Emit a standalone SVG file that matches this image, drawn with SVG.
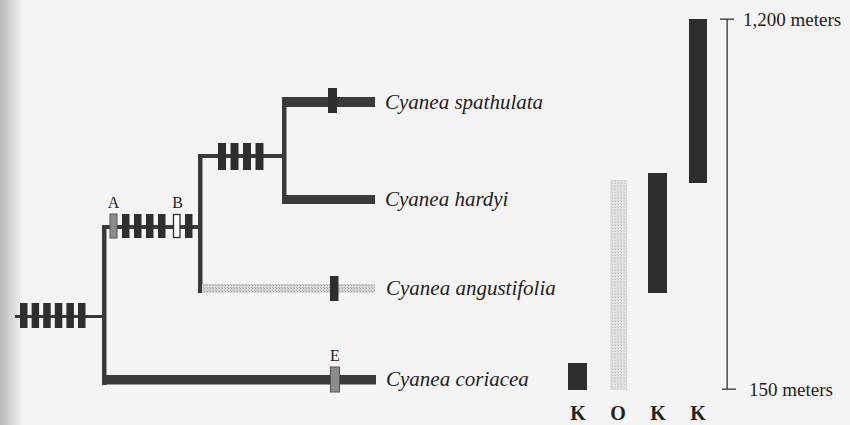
<svg xmlns="http://www.w3.org/2000/svg" width="850" height="425" viewBox="0 0 850 425">
  <defs>
    <linearGradient id="edge" x1="0" y1="0" x2="1" y2="0">
      <stop offset="0" stop-color="#b8b8b8"/>
      <stop offset="1" stop-color="#f2f2f2"/>
    </linearGradient>
    <pattern id="stip" width="3" height="3" patternUnits="userSpaceOnUse">
      <rect width="3" height="3" fill="#d6d6d6"/>
      <rect width="1" height="1" fill="#a8a8a8"/>
      <rect x="2" y="2" width="1" height="1" fill="#b4b4b4"/>
    </pattern>
    <pattern id="stipL" width="3" height="3" patternUnits="userSpaceOnUse">
      <rect width="3" height="3" fill="#e0e0e0"/>
      <rect width="1" height="1" fill="#c4c4c4"/>
      <rect x="2" y="2" width="1" height="1" fill="#cecece"/>
    </pattern>
  </defs>
  <style>
    .ln { fill: #3a3a3a; }
    .bar { fill: #2e2e2e; }
    .gbar { fill: #8c8c8c; stroke: #555; stroke-width: 1; }
    .wbar { fill: #ffffff; stroke: #2e2e2e; stroke-width: 1.3; }
    .taxon { font-family: "Liberation Serif", "Times New Roman", serif; font-style: italic; font-size: 21px; fill: #1e1e1e; }
    .lbl { font-family: "Liberation Serif", "Times New Roman", serif; font-size: 16px; fill: #222; text-anchor: middle; }
    .scale { font-family: "Liberation Serif", "Times New Roman", serif; font-size: 19px; fill: #222; }
    .isl { font-family: "Liberation Serif", "Times New Roman", serif; font-size: 20px; font-weight: bold; fill: #222; text-anchor: middle; }
  </style>

  <rect width="850" height="425" fill="#f4f4f4"/>
  <rect width="22" height="425" fill="url(#edge)"/>

  <g id="connectors">
    <rect class="ln" x="15" y="315" width="90" height="3"/>
    <rect class="ln" x="102" y="225" width="4.5" height="160"/>
    <rect class="ln" x="102" y="225" width="100" height="4"/>
    <rect class="ln" x="198" y="154" width="4.5" height="139"/>
    <rect class="ln" x="198" y="154" width="88" height="4"/>
    <rect class="ln" x="282" y="97" width="4.5" height="107"/>
    <rect class="ln" x="282" y="97" width="93" height="10"/>
    <rect class="ln" x="282" y="195" width="93" height="9"/>
    <rect x="202" y="284" width="173" height="9" fill="url(#stip)"/>
    <rect class="ln" x="102" y="375" width="274" height="9.5"/>
  </g>

  <g id="root-characters">
    <rect class="bar" x="20" y="303" width="7.5" height="25"/>
    <rect class="bar" x="31.6" y="303" width="7.5" height="25"/>
    <rect class="bar" x="43.2" y="303" width="7.5" height="25"/>
    <rect class="bar" x="54.8" y="303" width="7.5" height="25"/>
    <rect class="bar" x="66.4" y="303" width="7.5" height="25"/>
    <rect class="bar" x="78" y="303" width="7.5" height="25"/>
  </g>

  <g id="node-AB">
    <rect class="gbar" x="110" y="214" width="7" height="24"/>
    <rect class="bar" x="122" y="214" width="7.5" height="24"/>
    <rect class="bar" x="134" y="214" width="7.5" height="24"/>
    <rect class="bar" x="146" y="214" width="7.5" height="24"/>
    <rect class="bar" x="158" y="214" width="7.5" height="24"/>
    <rect class="wbar" x="173.5" y="214.5" width="6.5" height="23"/>
    <rect class="bar" x="185" y="214" width="7.5" height="24"/>
    <text class="lbl" x="113.5" y="208">A</text>
    <text class="lbl" x="177.5" y="208">B</text>
  </g>

  <g id="node-upper">
    <rect class="bar" x="218" y="143" width="8" height="27"/>
    <rect class="bar" x="230.5" y="143" width="8" height="27"/>
    <rect class="bar" x="243" y="143" width="8" height="27"/>
    <rect class="bar" x="255.5" y="143" width="8" height="27"/>
  </g>

  <g id="taxon-spathulata">
    <rect class="bar" x="328" y="88" width="9" height="25"/>
    <text class="taxon" x="385" y="109">Cyanea spathulata</text>
  </g>

  <g id="taxon-hardyi">
    <text class="taxon" x="385" y="206">Cyanea hardyi</text>
  </g>

  <g id="taxon-angustifolia">
    <rect class="bar" x="330" y="276" width="8.5" height="25"/>
    <text class="taxon" x="386" y="295">Cyanea angustifolia</text>
  </g>

  <g id="taxon-coriacea">
    <rect class="gbar" x="330.5" y="367" width="9" height="25"/>
    <text class="lbl" x="335" y="361">E</text>
    <text class="taxon" x="386" y="386">Cyanea coriacea</text>
  </g>

  <g id="altitude-bars">
    <rect class="bar" x="568" y="363" width="19" height="27"/>
    <rect x="610" y="180" width="17" height="210" fill="url(#stipL)"/>
    <rect class="bar" x="648" y="173" width="19" height="120"/>
    <rect class="bar" x="689" y="19" width="18" height="164"/>
  </g>

  <g id="island-labels">
    <text class="isl" x="578" y="420">K</text>
    <text class="isl" x="618" y="420">O</text>
    <text class="isl" x="658" y="420">K</text>
    <text class="isl" x="698" y="420">K</text>
  </g>

  <g id="elevation-scale">
    <rect x="726.5" y="19" width="1.3" height="370" fill="#333"/>
    <rect x="720" y="18.5" width="14" height="1.3" fill="#333"/>
    <rect x="722" y="388.5" width="14" height="1.3" fill="#333"/>
    <text class="scale" x="743" y="26">1,200 meters</text>
    <text class="scale" x="749" y="396">150 meters</text>
  </g>
</svg>
